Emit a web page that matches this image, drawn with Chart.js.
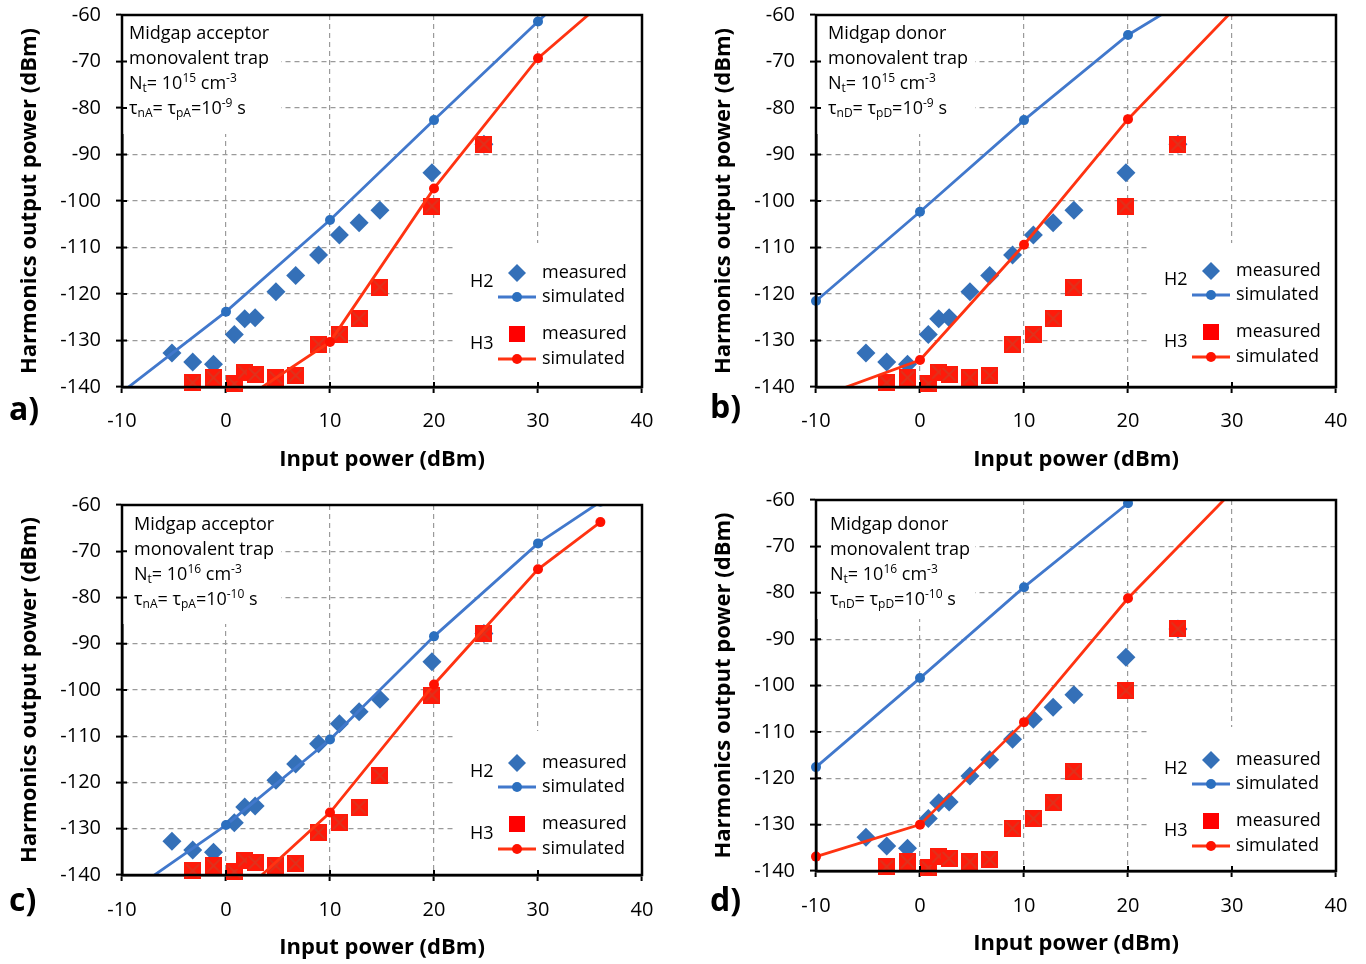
<!DOCTYPE html>
<html><head><meta charset="utf-8">
<script src="https://cdn.jsdelivr.net/npm/chart.js@4.4.0/dist/chart.umd.min.js"></script>
<style>
body{margin:0;background:#fff;width:1366px;height:964px;overflow:hidden;position:relative;font-family:'Open Sans',sans-serif}
canvas{position:absolute}
.lbl{position:absolute;font:bold 32px 'Open Sans';line-height:32px;color:#000}
</style></head><body>
<canvas id="ca" width="683" height="482" style="left:0;top:0"></canvas>
<canvas id="cb" width="683" height="482" style="left:683px;top:0"></canvas>
<canvas id="cc" width="683" height="482" style="left:0;top:482px"></canvas>
<canvas id="cd" width="683" height="482" style="left:683px;top:482px"></canvas>
<div class="lbl" style="left:9px;top:392px">a)</div>
<div class="lbl" style="left:710px;top:390px">b)</div>
<div class="lbl" style="left:9px;top:883px">c)</div>
<div class="lbl" style="left:710px;top:883px">d)</div>
<script>
// ---- tick labels ----
const xTicks = [-10, 0, 10, 20, 30, 40];
const yTicks = [-140, -130, -120, -110, -100, -90, -80, -70, -60];

// ---- measured data (same in all panels) ----
const h2MeasuredX = [-5.2, -3.2, -1.2, 0.8, 1.8, 2.8, 4.8, 6.7, 8.9, 10.9, 12.8, 14.8, 19.8, 24.8];
const h2Measured  = [-132.7, -134.6, -135.1, -128.7, -125.3, -125.1, -119.5, -116.0, -111.6, -107.3, -104.7, -102.0, -93.9, -87.8];
const h3MeasuredX = [-3.2, -1.2, 0.8, 1.8, 2.8, 4.8, 6.7, 8.9, 10.9, 12.8, 14.8, 19.8, 24.8];
const h3Measured  = [-139.1, -138.0, -139.3, -136.8, -137.3, -138.0, -137.5, -130.8, -128.7, -125.3, -118.5, -101.1, -87.8];

// ---- simulated data per panel ----
const h2SimX_a = [-10, 0, 10, 20, 30, 40];
const h2Sim_a  = [-141.1, -123.8, -104.1, -82.6, -61.4, -40.2];
const h3SimX_a = [0, 10, 20, 30, 40];
const h3Sim_a  = [-145.2, -130.3, -97.3, -69.3, -50.0];

const h2SimX_b = [-10, 0, 10, 20, 30];
const h2Sim_b  = [-121.5, -102.3, -82.6, -64.3, -50.7];
const h3SimX_b = [-10, 0, 10, 20, 30];
const h3Sim_b  = [-142.4, -134.2, -109.4, -82.4, -59.2];

const h2SimX_c = [-10, 0, 10, 20, 30, 36];
const h2Sim_c  = [-144.9, -129.2, -110.7, -88.4, -68.3, -59.3];
const h3SimX_c = [0, 10, 20, 30, 36];
const h3Sim_c  = [-147.1, -126.5, -98.8, -73.9, -63.7];

const h2SimX_d = [-10, 0, 10, 20, 30];
const h2Sim_d  = [-117.6, -98.4, -78.8, -60.7, -42.0];
const h3SimX_d = [-10, 0, 10, 20, 30];
const h3Sim_d  = [-136.9, -130.0, -107.9, -81.2, -58.2];

// ---- annotation texts ----
const noteA = [[['Midgap acceptor']], [['monovalent trap']],
  [['N'],['t','sub'],['= 10'],['15','sup'],[' cm'],['-3','sup']],
  [['τ'],['nA','sub'],['= τ'],['pA','sub'],['=10'],['-9','sup'],[' s']]];
const noteB = [[['Midgap donor']], [['monovalent trap']],
  [['N'],['t','sub'],['= 10'],['15','sup'],[' cm'],['-3','sup']],
  [['τ'],['nD','sub'],['= τ'],['pD','sub'],['=10'],['-9','sup'],[' s']]];
const noteC = [[['Midgap acceptor']], [['monovalent trap']],
  [['N'],['t','sub'],['= 10'],['16','sup'],[' cm'],['-3','sup']],
  [['τ'],['nA','sub'],['= τ'],['pA','sub'],['=10'],['-10','sup'],[' s']]];
const noteD = [[['Midgap donor']], [['monovalent trap']],
  [['N'],['t','sub'],['= 10'],['16','sup'],[' cm'],['-3','sup']],
  [['τ'],['nD','sub'],['= τ'],['pD','sub'],['=10'],['-10','sup'],[' s']]];

const BLUE_LINE = '#4178CC', BLUE_DOT = '#2B6FBF', BLUE_DIA = '#3470B8';
const RED_LINE = '#FF3311', RED_DOT = '#FF1100', RED_SQ = '#FF1A0A';
const FONT = "'Open Sans'";

function sqImage(size){
  const c = document.createElement('canvas'); c.width = c.height = size;
  const g = c.getContext('2d');
  g.fillStyle = RED_SQ; g.fillRect(0,0,size,size);
  g.strokeStyle = '#E0321C'; g.lineWidth = 2.2;
  g.beginPath(); g.moveTo(2,2); g.lineTo(size-2,size-2); g.moveTo(size-2,2); g.lineTo(2,size-2); g.stroke();
  return c;
}
const SQ = sqImage(17);

function xy(xs, ys){ return xs.map((x,i)=>({x, y: ys[i]})); }

function drawRich(ctx, x, y, segs, size){
  let cx = x;
  for (const [t, kind] of segs){
    const fs = kind ? Math.round(size*0.66) : size;
    ctx.font = fs + 'px ' + FONT;
    const dy = kind === 'sup' ? -size*0.32 : kind === 'sub' ? size*0.28 : 0;
    ctx.fillText(t, cx, y + dy);
    cx += ctx.measureText(t).width;
  }
}

function panelPlugin(cfg){
  return {
    id: 'panel',
    beforeDatasetsDraw(chart){
      const {ctx, chartArea: a} = chart;
      ctx.save(); ctx.fillStyle = '#fff';
      ctx.fillRect(a.left + 1, a.top + 1, 158, 118);
      ctx.fillRect(a.right - 188, a.bottom - 144, 187, 143);
      ctx.restore();
    },
    afterDatasetsDraw(chart){
      const {ctx, chartArea: a, scales} = chart;
      ctx.save();
      ctx.strokeStyle = '#000'; ctx.lineWidth = 2.5;
      ctx.strokeRect(a.left, a.top, a.right - a.left, a.bottom - a.top);
      ctx.lineWidth = 2;
      ctx.beginPath();
      for (const v of xTicks){ const px = scales.x.getPixelForValue(v); ctx.moveTo(px, a.bottom); ctx.lineTo(px, a.bottom - 5); }
      for (const v of yTicks){ const py = scales.y.getPixelForValue(v); ctx.moveTo(a.left, py); ctx.lineTo(a.left + 5, py); }
      ctx.stroke();
      ctx.fillStyle = '#000'; ctx.textBaseline = 'middle'; ctx.textAlign = 'left';
      cfg.note.forEach((segs, i) => drawRich(ctx, a.left + cfg.noteX, a.top + cfg.noteY + i*25, segs, 18));
      const R = a.right, B = a.bottom + cfg.legDy;
      ctx.font = '18px ' + FONT;
      ctx.fillText('H2', R - 172, B - 105);
      ctx.fillText('H3', R - 172, B - 43);
      ctx.fillText('measured', R - 100, B - 114);
      ctx.fillText('simulated', R - 100, B - 90);
      ctx.fillText('measured', R - 100, B - 53);
      ctx.fillText('simulated', R - 100, B - 28);
      const mx = R - 125;
      ctx.fillStyle = BLUE_DIA;
      ctx.beginPath(); ctx.moveTo(mx, B - 123); ctx.lineTo(mx + 9, B - 114); ctx.lineTo(mx, B - 105); ctx.lineTo(mx - 9, B - 114); ctx.closePath(); ctx.fill();
      ctx.strokeStyle = BLUE_LINE; ctx.lineWidth = 3;
      ctx.beginPath(); ctx.moveTo(mx - 19, B - 90); ctx.lineTo(mx + 19, B - 90); ctx.stroke();
      ctx.fillStyle = BLUE_DOT; ctx.beginPath(); ctx.arc(mx, B - 90, 5, 0, Math.PI*2); ctx.fill();
      ctx.fillStyle = '#FF0000'; ctx.fillRect(mx - 8, B - 61, 16, 16);
      ctx.strokeStyle = RED_LINE; ctx.lineWidth = 3;
      ctx.beginPath(); ctx.moveTo(mx - 19, B - 28); ctx.lineTo(mx + 19, B - 28); ctx.stroke();
      ctx.fillStyle = RED_DOT; ctx.beginPath(); ctx.arc(mx, B - 28, 5, 0, Math.PI*2); ctx.fill();
      ctx.restore();
    }
  };
}

function makeChart(cfg){
  const simClip = {left: 8, top: 0, right: 0, bottom: 0};
  return new Chart(document.getElementById(cfg.id), {
    type: 'scatter',
    data: { datasets: [
      { label: 'H3 simulated', data: xy(cfg.h3SimX, cfg.h3Sim), showLine: true, borderColor: RED_LINE, backgroundColor: RED_DOT,
        borderWidth: 2.8, pointRadius: 5, pointHoverRadius: 5, pointBorderWidth: 0, clip: simClip, order: 0 },
      { label: 'H2 simulated', data: xy(cfg.h2SimX, cfg.h2Sim), showLine: true, borderColor: BLUE_LINE, backgroundColor: BLUE_DOT,
        borderWidth: 2.8, pointRadius: 5, pointHoverRadius: 5, pointBorderWidth: 0, clip: simClip, order: 1 },
      { label: 'H3 measured', data: xy(h3MeasuredX, h3Measured), pointStyle: SQ, pointRadius: 9, clip: false, order: 2 },
      { label: 'H2 measured', data: xy(h2MeasuredX, h2Measured), pointStyle: 'rectRot', pointRadius: 9.5, pointHoverRadius: 9.5,
        backgroundColor: BLUE_DIA, borderWidth: 0, pointBorderWidth: 0, clip: false, order: 3 }
    ]},
    options: {
      responsive: false, animation: false, events: [],
      layout: { padding: { left: 0, top: cfg.padT, right: cfg.padR, bottom: 0 } },
      plugins: { legend: { display: false }, tooltip: { enabled: false } },
      scales: {
        x: { type: 'linear', min: -10, max: 40,
          afterBuildTicks: s => { s.ticks = xTicks.map(v => ({ value: v })); },
          ticks: { font: { family: 'Open Sans', size: 20 }, color: '#000', padding: cfg.xTickPad, maxRotation: 0, autoSkip: false },
          grid: { color: '#9a9a9a', lineWidth: 1.2, tickLength: 6, tickColor: '#000', tickWidth: 2 },
          border: { display: true, color: '#000', width: 2.5, dash: [5, 4] },
          title: { display: true, text: 'Input power (dBm)', color: '#000', font: { family: 'Open Sans', size: 22, weight: 'bold' }, padding: { top: 0, bottom: cfg.xTitlePad } },
          afterFit: s => { s.height = cfg.xH; s.paddingLeft = 0; s.paddingRight = 0; } },
        y: { type: 'linear', min: -140, max: -60,
          afterBuildTicks: s => { s.ticks = yTicks.map(v => ({ value: v })); },
          ticks: { font: { family: 'Open Sans', size: 20 }, color: '#000', padding: 15, autoSkip: false },
          grid: { color: '#9a9a9a', lineWidth: 1.2, tickLength: 6, tickColor: '#000', tickWidth: 2 },
          border: { display: true, color: '#000', width: 2.5, dash: [5, 4] },
          title: { display: true, text: 'Harmonics output power (dBm)', color: '#000', font: { family: 'Open Sans', size: 22, weight: 'bold' }, padding: { top: cfg.yTitlePad, bottom: 0 } },
          afterFit: s => { s.width = cfg.yW; s.paddingTop = 0; s.paddingBottom = 0; } }
      }
    },
    plugins: [panelPlugin(cfg)]
  });
}

makeChart({ id: 'ca', h2SimX: h2SimX_a, h2Sim: h2Sim_a, h3SimX: h3SimX_a, h3Sim: h3Sim_a, note: noteA,
  padT: 15, padR: 41, xH: 95, yW: 122, xTickPad: 16, xTitlePad: 8.8, yTitlePad: 16.8, noteX: 7, noteY: 19, legDy: 0 });
makeChart({ id: 'cb', h2SimX: h2SimX_b, h2Sim: h2Sim_b, h3SimX: h3SimX_b, h3Sim: h3Sim_b, note: noteB,
  padT: 15, padR: 30, xH: 95, yW: 133, xTickPad: 16, xTitlePad: 8.8, yTitlePad: 27.8, noteX: 12, noteY: 19, legDy: -2 });
makeChart({ id: 'cc', h2SimX: h2SimX_c, h2Sim: h2Sim_c, h3SimX: h3SimX_c, h3Sim: h3Sim_c, note: noteC,
  padT: 23, padR: 41, xH: 89, yW: 122, xTickPad: 17, xTitlePad: 2.8, yTitlePad: 16.8, noteX: 12, noteY: 20, legDy: 2 });
makeChart({ id: 'cd', h2SimX: h2SimX_d, h2Sim: h2Sim_d, h3SimX: h3SimX_d, h3Sim: h3Sim_d, note: noteD,
  padT: 18, padR: 30, xH: 93, yW: 133, xTickPad: 17, xTitlePad: 6.8, yTitlePad: 27.8, noteX: 14, noteY: 25, legDy: 3 });
</script>
</body></html>
